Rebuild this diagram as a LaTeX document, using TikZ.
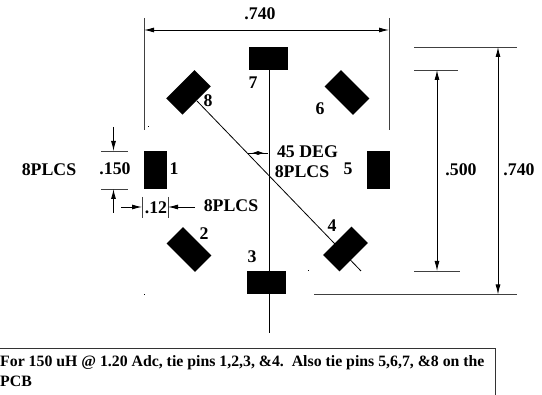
\documentclass[tikz,border=0pt]{standalone}
\usepackage{fontspec}
\setmainfont{Liberation Serif}
\usetikzlibrary{arrows.meta,positioning,calc}

\tikzset{
    pad/.style={fill=black, inner sep=0pt, minimum width=#1},
    padwide/.style={pad=39pt, minimum height=23pt},
    padtall/.style={pad=23pt, minimum height=38pt},
    paddiag/.style={pad=40pt, minimum height=23pt},
    lbl/.style={font=\fontsize{17.8}{19}\selectfont\bfseries, inner sep=0pt},
    note/.style={font=\fontsize{15.8}{17}\selectfont\bfseries, inner sep=0pt, anchor=west},
    dim/.style={line width=0.9pt, -{Latex[length=10pt,width=5pt]}},
    dimboth/.style={line width=0.9pt, {Latex[length=10pt,width=5pt]}-{Latex[length=10pt,width=5pt]}},
    ext/.style={line width=0.9pt, black!75},
    axis/.style={line width=0.8pt}
}

\begin{document}
\begin{tikzpicture}[x=1pt,y=-1pt]
    \useasboundingbox (0,0) rectangle (542,395);

    % Pads
    \node[padtall] (pad1) at (155.5,170) {};
    \node[paddiag, rotate=-45] (pad2) at (189,249.5) {};
    \node[padwide] (pad3) at (266.5,282.7) {};
    \node[paddiag, rotate=45] (pad4) at (345.5,249) {};
    \node[padtall] (pad5) at (378.5,170) {};
    \node[paddiag, rotate=-45] (pad6) at (347,92.5) {};
    \node[padwide] (pad7) at (268.5,58.5) {};
    \node[paddiag, rotate=45] (pad8) at (188.5,92.3) {};

    % Pin numbers
    \node[lbl] (num1) at (174,168.5) {1};
    \node[lbl] (num2) at (204,234) {2};
    \node[lbl] (num3) at (252,257) {3};
    \node[lbl] (num4) at (332,226) {4};
    \node[lbl] (num5) at (348,169) {5};
    \node[lbl] (num6) at (320,109) {6};
    \node[lbl] (num7) at (253,83) {7};
    \node[lbl] (num8) at (208,101) {8};

    % Center lines
    \draw[axis] (pad7.south -| 269,0) -- (269,333);
    \draw[axis] (197,101) -- (361,271);

    % Top dimension
    \node[lbl] (topdim) at (260,14) {.740};
    \coordinate (topleft) at (144,30);
    \coordinate (topright) at (389,30);
    \draw[ext] (144,18) -- (144,130);
    \draw[ext] (389,18) -- (389,130);
    \draw[dimboth] (topleft) -- (topright);

    % Pad length
    \node[lbl] (lenplcs) at (49,170) {8PLCS};
    \node[lbl] (lendim) at (115,169) {.150};
    \draw[ext] (101,151) -- (128,151);
    \draw[ext] (101,189) -- (128,189);
    \draw[dim] (113.5,127) -- (113.5,151);
    \draw[dim] (113.5,213) -- (113.5,189);

    % Pad width
    \node[lbl] (widdim) at (156,208) {.12};
    \node[lbl] (widplcs) at (231,206) {8PLCS};
    \draw[ext] (142,197) -- (142,218);
    \draw[ext] (168,197) -- (168,218);
    \draw[dim] (121,207) -- (142,207);
    \draw[dim] (195,207) -- (168,207);

    % Angle
    \node[lbl] (angdeg) at (307.5,152) {45 DEG};
    \node[lbl] (angplcs) at (302,172) {8PLCS};
    \coordinate (angmid) at (258,153);
    \draw[axis] (248,153) -- (268,153);
    \draw[line width=0.8pt, -{Latex[length=6pt,width=4pt]}] (angmid) -- (252,153);
    \draw[line width=0.8pt, -{Latex[length=6pt,width=4pt]}] (angmid) -- (264,153);

    % Right dimensions
    \node[lbl] (innerdim) at (461,170) {.500};
    \node[lbl] (outerdim) at (519,170) {.740};
    \draw[ext] (414,70) -- (458,70);
    \draw[ext] (414,271) -- (460,271);
    \draw[ext] (414,47) -- (517,47);
    \draw[ext] (314,294.5) -- (517,294.5);
    \draw[dimboth] (437,70) -- (437,271);
    \draw[dimboth] (498,47) -- (498,294.5);

    % Specks
    \fill (147.6,125.6) rectangle (148.6,126.6);
    \fill (143.6,293.6) rectangle (144.8,294.6);
    \fill (307.8,269.6) rectangle (308.6,270.8);

    % Note box
    \draw[line width=1pt, black!80] (0,348.5) -- (495.5,348.5) -- (495.5,395);
    \node[note] (note1) at (0,363) {For 150 uH @ 1.20 Adc, tie pins 1,2,3, \&4.\ \ Also tie pins 5,6,7, \&8 on the};
    \node[note] (note2) at (0,381) {PCB};
\end{tikzpicture}
\end{document}
